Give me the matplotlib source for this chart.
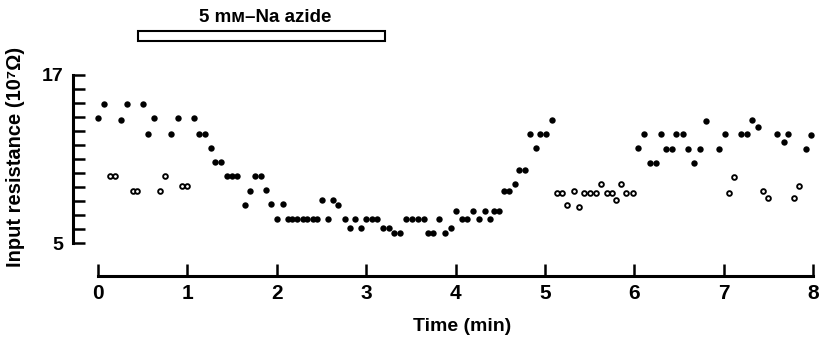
import matplotlib
matplotlib.use("Agg")
import matplotlib.pyplot as plt
from matplotlib.patches import Rectangle

# filled circles (time in min, input resistance in 10^7 ohm)
t_filled = [0.00, 0.07, 0.26, 0.32, 0.50, 0.56, 0.63, 0.82, 0.89, 1.07,
            1.13, 1.20, 1.26, 1.31, 1.38, 1.44, 1.50, 1.56, 1.64, 1.70,
            1.76, 1.82, 1.88, 1.94, 2.00, 2.07, 2.12, 2.17, 2.23, 2.29,
            2.34, 2.40, 2.45, 2.51, 2.57, 2.63, 2.69, 2.76, 2.82, 2.88,
            2.94, 3.00, 3.06, 3.12, 3.19, 3.25, 3.31, 3.38, 3.44, 3.51,
            3.58, 3.65, 3.69, 3.75, 3.82, 3.88, 3.95, 4.00, 4.07, 4.13,
            4.19, 4.26, 4.33, 4.38, 4.43, 4.49, 4.54, 4.60, 4.67, 4.71,
            4.78, 4.83, 4.90, 4.94, 5.01, 5.08,
            6.04, 6.11, 6.17, 6.24, 6.30, 6.35, 6.42, 6.47, 6.54, 6.60,
            6.67, 6.73, 6.80, 6.95, 7.01, 7.19, 7.26, 7.32, 7.38, 7.59,
            7.67, 7.72, 7.92, 7.98]
r_filled = [13.9, 14.9, 13.8, 14.9, 14.9, 12.8, 13.9, 12.8, 13.9, 13.9,
            12.8, 12.8, 11.8, 10.8, 10.8, 9.8, 9.8, 9.8, 7.7, 8.7,
            9.8, 9.8, 8.8, 7.8, 6.7, 7.8, 6.7, 6.7, 6.7, 6.7,
            6.7, 6.7, 6.7, 8.1, 6.7, 8.1, 7.7, 6.7, 6.1, 6.7,
            6.1, 6.7, 6.7, 6.7, 6.1, 6.1, 5.7, 5.7, 6.7, 6.7,
            6.7, 6.7, 5.7, 5.7, 6.7, 5.7, 6.1, 7.3, 6.7, 6.7,
            7.3, 6.7, 7.3, 6.7, 7.3, 7.3, 8.7, 8.7, 9.2, 10.2,
            10.2, 12.8, 11.8, 12.8, 12.8, 13.8,
            11.8, 12.8, 10.7, 10.7, 12.8, 11.7, 11.7, 12.8, 12.8, 11.7,
            10.7, 11.7, 13.7, 11.7, 12.8, 12.8, 12.8, 13.8, 13.3, 12.8,
            12.2, 12.8, 11.7, 12.7]

# open circles
t_open = [0.13, 0.19, 0.39, 0.44, 0.69, 0.75, 0.94, 1.00,
          5.13, 5.19, 5.25, 5.32, 5.38, 5.44, 5.50, 5.57, 5.63, 5.69,
          5.75, 5.79, 5.85, 5.91, 5.98,
          7.06, 7.11, 7.44, 7.49, 7.78, 7.84]
r_open = [9.8, 9.8, 8.7, 8.7, 8.7, 9.8, 9.1, 9.1,
          8.6, 8.6, 7.7, 8.7, 7.6, 8.6, 8.6, 8.6, 9.2, 8.6,
          8.6, 8.1, 9.2, 8.6, 8.6,
          8.6, 9.7, 8.7, 8.2, 8.2, 9.1]

azide_on = 0.45
azide_off = 3.21
azide_label = "5 m\u1d0d\u2013Na azide"

xticks = list(range(0, 9))
yticks = list(range(5, 18))

fam = ["Liberation Sans", "DejaVu Sans"]
plt.rcParams["font.family"] = fam
plt.rcParams["font.weight"] = "bold"

fig = plt.figure(figsize=(8.25, 3.39), dpi=100)
ax = fig.add_axes([0.0881, 0.1858, 0.9058, 0.8142])
ax.set_xlim(-0.283, 8.076)
ax.set_ylim(2.669, 22.34)

ax.plot(t_filled, r_filled, "o", color="black", markersize=4.6, markeredgewidth=0)
ax.plot(t_open, r_open, "o", markerfacecolor="white", markeredgecolor="black",
        markersize=3.4, markeredgewidth=1.35)

# axes: detached spines like the original figure
for s in ["top", "right"]:
    ax.spines[s].set_visible(False)
ax.spines["left"].set_bounds(5, 17)
ax.spines["bottom"].set_bounds(0, 8)
ax.spines["left"].set_linewidth(2.2)
ax.spines["bottom"].set_linewidth(2.2)

ax.set_xticks(xticks)
ax.set_xticklabels([str(v) for v in xticks], fontsize=15, fontweight="bold")
ax.set_yticks(yticks)
ax.set_yticklabels([str(v) if v in (5, 17) else "" for v in yticks],
                   fontsize=14, fontweight="bold")
ax.tick_params(axis="x", direction="in", length=8.6, width=1.8, pad=5.5)
ax.tick_params(axis="y", direction="in", length=8.6, width=1.8, pad=6.8)

ax.text(0.521, -0.183, "Time (min)", transform=ax.transAxes, ha="center",
        va="center", fontsize=14, fontweight="bold")
ax.text(-0.0759, 0.431, "Input resistance (10\u2077\u03a9)", transform=ax.transAxes,
        ha="center", va="center", rotation=90, fontsize=14.5, fontweight="bold")

# drug application bar
bar = Rectangle((azide_on, 19.42), azide_off - azide_on, 0.71, facecolor="white",
                edgecolor="black", linewidth=1.5, clip_on=False)
ax.add_patch(bar)
ax.text(1.87, 21.06, azide_label, ha="center", va="center", fontsize=13.5,
        fontweight="bold")

fig.savefig("out.png", dpi=100)
